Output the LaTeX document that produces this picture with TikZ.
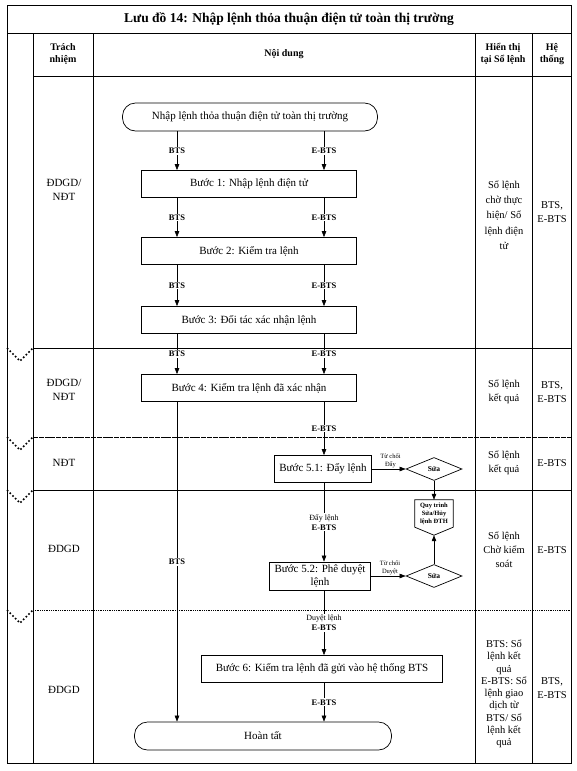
\documentclass[tikz,border=0pt]{standalone}
\usepackage{fontspec}
\setmainfont{Liberation Serif}
\usetikzlibrary{shapes.geometric,arrows.meta,positioning}

\begin{document}
\begin{tikzpicture}[
        x=1pt, y=-1pt,
        every node/.style={align=center, inner sep=1pt},
        stepn/.style={draw, line width=0.7pt, minimum height=27pt, font=\fontsize{11}{12.5}\selectfont},
        termn/.style={draw, line width=0.7pt, rounded corners=13pt, minimum height=28pt, font=\fontsize{11}{12.5}\selectfont},
        sua/.style={draw, diamond, aspect=2.4, minimum width=56pt, minimum height=23pt, inner sep=0pt, line width=0.7pt, font=\fontsize{7.5}{8}\selectfont\bfseries},
        lbl/.style={fill=white, font=\fontsize{8.5}{10}\selectfont\bfseries},
        tinyt/.style={font=\fontsize{6.5}{7.5}\selectfont},
        cell/.style={font=\fontsize{10.5}{14}\selectfont},
        head/.style={font=\fontsize{10}{11.5}\selectfont\bfseries},
        arr/.style={draw, line width=0.6pt, -{Triangle[length=6pt,width=4.5pt]}},
        tbl/.style={line width=0.8pt},
        tick/.style={line width=1.6pt, dash pattern=on 1.6pt off 2.2pt},
    ]
    \useasboundingbox (0,0) rectangle (576,771);
    % table
    \draw[tbl] (7,5) rectangle (571,763);
    \draw[tbl] (7,33) -- (571,33);
    \draw[tbl] (33,76) -- (571,76);
    \foreach \x in {33,93,475,532} \draw[tbl] (\x,33) -- (\x,763);
    \draw[tbl] (33,348) -- (571,348);
    \draw[tbl, dash pattern=on 5pt off 0.8pt] (33,437) -- (571,437);
    \draw[tbl] (33,490) -- (571,490);
    \draw[tbl, densely dotted] (33,610) -- (571,610);
    \foreach \y in {348,437,490,610} \draw[tick] (7,\y) -- (20,\y+13) -- (33,\y);

    \node[font=\fontsize{13.5}{15}\selectfont\bfseries] (title) at (289,19) {Lưu đồ 14: Nhập lệnh thỏa thuận điện tử toàn thị trường};
    \node[head] (hTN) at (63,54) {Trách\\nhiệm};
    \node[head] (hND) at (284,54) {Nội dung};
    \node[head] (hHT) at (503,54) {Hiển thị\\tại Sổ lệnh};
    \node[head] (hHS) at (552,54) {Hệ\\thống};

    % responsibility
    \node[cell, font=\fontsize{11}{14}\selectfont] (tn1) at (64,190) {ĐDGD/\\NĐT};
    \node[cell, font=\fontsize{11}{14}\selectfont] (tn2) at (64,390) {ĐDGD/\\NĐT};
    \node[cell, font=\fontsize{11}{14}\selectfont] (tn3) at (64,463) {NĐT};
    \node[cell, font=\fontsize{11}{14}\selectfont] (tn4) at (64,549) {ĐDGD};
    \node[cell, font=\fontsize{11}{14}\selectfont] (tn5) at (64,690) {ĐDGD};

    % display / system
    \node[cell, font=\fontsize{10.5}{15.3}\selectfont] (sl1) at (504,215) {Sổ lệnh\\chờ thực\\hiện/ Sổ\\lệnh điện\\tử};
    \node[cell] (ht1) at (552,212) {BTS,\\E-BTS};
    \node[cell] (sl2) at (504,392) {Sổ lệnh\\kết quả};
    \node[cell] (ht2) at (552,392) {BTS,\\E-BTS};
    \node[cell] (sl3) at (504,463) {Sổ lệnh\\kết quả};
    \node[cell] (ht3) at (552,463) {E-BTS};
    \node[cell] (sl4) at (504,550) {Sổ lệnh\\Chờ kiểm\\soát};
    \node[cell] (ht4) at (552,550) {E-BTS};
    \node[cell, font=\fontsize{10.5}{12.3}\selectfont] (sl5) at (504,694) {BTS: Sổ\\lệnh kết\\quả\\E-BTS: Sổ\\lệnh giao\\dịch từ\\BTS/ Sổ\\lệnh kết\\quả};
    \node[cell] (ht5) at (552,688) {BTS,\\E-BTS};

    % flow
    \coordinate (lnB) at (177,0);
    \coordinate (lnE) at (324,0);
    \node[termn, minimum width=255pt] (start) at (250,117) {Nhập lệnh thỏa thuận điện tử toàn thị trường};
    \node[stepn, minimum width=215pt] (b1) at (249,184) {Bước 1: Nhập lệnh điện tử};
    \node[stepn, minimum width=215pt] (b2) at (249,251) {Bước 2: Kiểm tra lệnh};
    \node[stepn, minimum width=215pt] (b3) at (249,320) {Bước 3: Đối tác xác nhận lệnh};
    \node[stepn, minimum width=215pt] (b4) at (249,388) {Bước 4: Kiểm tra lệnh đã xác nhận};
    \node[stepn, minimum width=97pt] (b51) at (323,469) {Bước 5.1: Đẩy lệnh};
    \node[stepn, minimum width=101pt, minimum height=28pt] (b52) at (320,576) {Bước 5.2: Phê duyệt\\lệnh};
    \node[sua] (sua1) at (434,469) {Sửa};
    \node[sua] (sua2) at (434,576) {Sửa};
    \node[font=\fontsize{6.5}{8}\selectfont\bfseries, minimum width=38pt, minimum height=27pt] (qt) at (434,513.5) {Quy trình\\Sửa/Hủy\\lệnh ĐTH};
    \coordinate (qtB) at ([yshift=-8pt]qt.south);
    \draw[line width=0.7pt] (qt.north west) -- (qt.north east) -- (qt.south east) -- (qtB) -- (qt.south west) -- cycle;
    \node[stepn, minimum width=241pt] (b6) at (322,669) {Bước 6: Kiểm tra lệnh đã gửi vào hệ thống BTS};
    \node[termn, minimum width=257pt] (end) at (263,736) {Hoàn tất};

    \foreach \a/\b in {start/b1, b1/b2, b2/b3, b3/b4} {
        \draw[arr] (\a.south -| lnB) -- node[lbl]{BTS} (\b.north -| lnB);
        \draw[arr] (\a.south -| lnE) -- node[lbl]{E-BTS} (\b.north -| lnE);
    }
    \draw[arr] (b4.south -| lnE) -- node[lbl]{E-BTS} (b51.north -| lnE);
    \draw[arr] (b4.south -| lnB) -- node[lbl]{BTS} (end.north -| lnB);
    \draw[arr] (b51.south -| lnE) -- node[lbl]{{\mdseries\fontsize{8}{9.5}\selectfont Đẩy lệnh}\\E-BTS} (b52.north -| lnE);
    \draw[arr] (b52.south -| lnE) -- node[lbl]{{\mdseries\fontsize{8}{9.5}\selectfont Duyệt lệnh}\\E-BTS} (b6.north -| lnE);
    \draw[arr] (b6.south -| lnE) -- node[lbl]{E-BTS} (end.north -| lnE);
    \draw[arr] (b51.east) -- node[above, tinyt, pos=0.55]{Từ chối\\Đẩy} (sua1.west);
    \draw[arr] (b52.east) -- node[above, tinyt, pos=0.55]{Từ chối\\Duyệt} (sua2.west);
    \draw[arr] (sua1.south) -- (qt.north);
    \draw[arr] (sua2.north) -- (qtB);
\end{tikzpicture}
\end{document}
